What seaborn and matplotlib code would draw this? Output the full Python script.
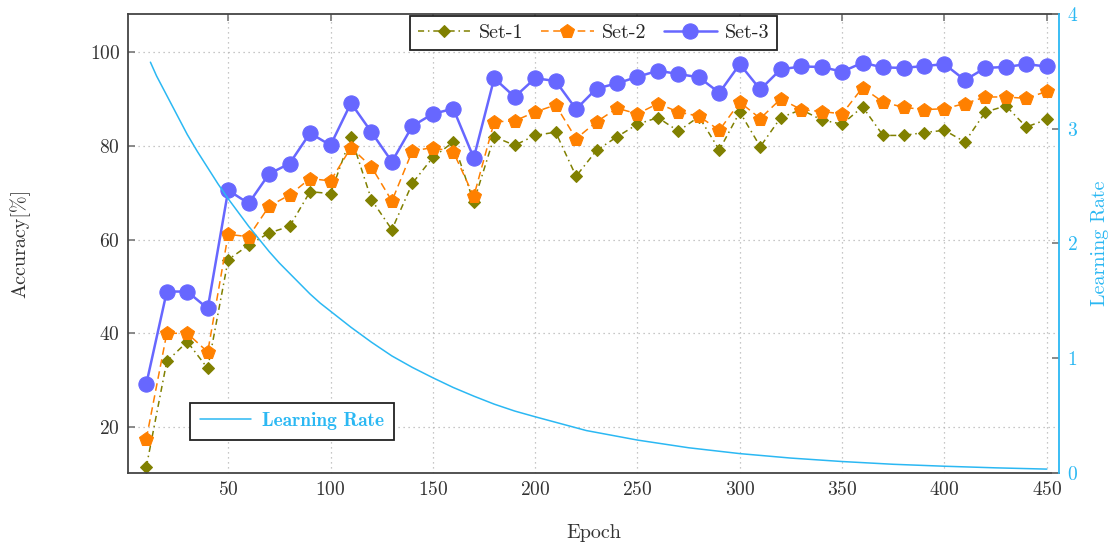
import matplotlib
matplotlib.use("Agg")
import matplotlib.pyplot as plt
import seaborn as sns

# accuracy per set, one value every 10 epochs
epochs = list(range(10, 460, 10))
set1 = [11.5, 34.0, 38.2, 32.5, 55.7, 58.8, 61.4, 62.8, 70.2, 69.8,
        81.9, 68.5, 62.1, 72.0, 77.5, 80.8, 68.0, 81.9, 80.1, 82.2,
        82.9, 73.5, 79.0, 81.9, 84.6, 86.0, 83.1, 86.2, 79.1, 87.2,
        79.8, 86.0, 87.7, 85.5, 84.6, 88.3, 82.2, 82.2, 82.8, 83.3,
        80.8, 87.2, 88.5, 84.0, 85.6]
set2 = [17.5, 40.0, 40.0, 36.0, 61.1, 60.6, 67.1, 69.5, 73.0, 72.5,
        79.6, 75.5, 68.2, 78.9, 79.6, 78.7, 69.2, 85.1, 85.3, 87.2,
        88.7, 81.5, 85.1, 88.0, 86.8, 89.0, 87.2, 86.3, 83.3, 89.3,
        85.8, 90.0, 87.7, 87.3, 86.8, 92.4, 89.3, 88.2, 87.7, 87.9,
        89.0, 90.4, 90.4, 90.1, 91.6]
set3 = [29.2, 48.9, 48.9, 45.3, 70.5, 67.7, 74.0, 76.2, 82.7, 80.1,
        89.1, 82.9, 76.6, 84.2, 86.8, 87.9, 77.4, 94.4, 90.4, 94.4,
        93.8, 87.8, 92.2, 93.3, 94.7, 96.0, 95.3, 94.6, 91.3, 97.4,
        92.0, 96.3, 96.9, 96.8, 95.8, 97.7, 96.7, 96.6, 97.0, 97.4,
        94.0, 96.6, 96.8, 97.4, 96.9]

# learning rate curve, sampled along the drawn line
lr_epochs = [12, 15, 20, 25, 30, 35, 40, 45, 50, 55, 60, 65, 70, 75, 80,
             85, 90, 95, 100, 110, 120, 130, 140, 150, 160, 170, 180, 190,
             200, 225, 250, 275, 300, 325, 350, 375, 400, 425, 450]
lr_values = [3.58, 3.46, 3.29, 3.12, 2.95, 2.80, 2.66, 2.52, 2.39, 2.27,
             2.15, 2.04, 1.93, 1.83, 1.74, 1.65, 1.56, 1.48, 1.41, 1.27,
             1.14, 1.02, 0.92, 0.83, 0.745, 0.67, 0.60, 0.54, 0.49, 0.37,
             0.287, 0.22, 0.169, 0.13, 0.10, 0.076, 0.059, 0.045, 0.034]

x_ticks = [50, 100, 150, 200, 250, 300, 350, 400, 450]
y_ticks = [20, 40, 60, 80, 100]
lr_ticks = [0, 1, 2, 3, 4]

sns.set_theme(style="white")
plt.rcParams["font.family"] = ["cmr10", "DejaVu Serif"]
plt.rcParams["axes.formatter.use_mathtext"] = True
plt.rcParams["mathtext.fontset"] = "cm"

olive = "#808000"
orange = "#ff8000"
blue = "#6767ff"
cyan = "#2bb8f3"
dark = "#333333"

fig = plt.figure(figsize=(11.1, 5.42), dpi=100)
ax = fig.add_axes([0.1156, 0.1273, 0.8385, 0.8469])

sns.lineplot(x=epochs, y=set1, ax=ax, color=olive, marker="D", markersize=6.5,
             markeredgecolor=olive, linestyle=(0, (4, 2.5, 1, 2.5)), linewidth=1.1,
             label="Set-1", errorbar=None, sort=False)
sns.lineplot(x=epochs, y=set2, ax=ax, color=orange, marker="p", markersize=10,
             markeredgecolor=orange, linestyle=(0, (5, 3)), linewidth=1.1,
             label="Set-2", errorbar=None, sort=False)
sns.lineplot(x=epochs, y=set3, ax=ax, color=blue, marker="o", markersize=11,
             markeredgecolor=blue, linestyle="-", linewidth=1.8,
             label="Set-3", errorbar=None, sort=False)

ax.set_xlim(1.2, 456)
ax.set_ylim(10.2, 108.1)
ax.set_xticks(x_ticks)
ax.set_yticks(y_ticks)
ax.grid(True, linestyle=(0, (1, 3)), color="#b5b5b5", linewidth=0.9)
ax.tick_params(direction="in", length=5, width=1.2, color="#777777", top=True,
               right=False, labelsize=14, labelcolor=dark, pad=6)
for side in ["left", "top", "bottom"]:
    ax.spines[side].set_color("#444444")
    ax.spines[side].set_linewidth(1.3)
ax.spines["right"].set_visible(False)

ax.set_xlabel("Epoch", fontsize=14.5, color=dark)
ax.xaxis.set_label_coords(0.5, -0.112)
ax.set_ylabel("Accuracy[%]", fontsize=14.5, color=dark)
ax.yaxis.set_label_coords(-0.1056, 0.5)

leg = ax.legend(loc="upper center", bbox_to_anchor=(0.5, 1.0), ncol=3,
                frameon=True, fancybox=False, edgecolor="#222222", framealpha=1,
                borderaxespad=0.1, fontsize=14.5, handlelength=2.6,
                columnspacing=0.9, handletextpad=0.4)
leg.get_frame().set_linewidth(1.3)

ax2 = ax.twinx()
sns.lineplot(x=lr_epochs, y=lr_values, ax=ax2, color=cyan, linewidth=1.1,
             label="Learning Rate", errorbar=None, sort=False)
ax2.set_ylim(0, 4)
ax2.set_yticks(lr_ticks)
ax2.grid(False)
ax2.tick_params(direction="in", length=5, width=1.2, color="#777777",
                labelcolor=cyan, labelsize=14, pad=6)
for side in ["left", "top", "bottom"]:
    ax2.spines[side].set_visible(False)
ax2.spines["right"].set_color(cyan)
ax2.spines["right"].set_linewidth(1.3)
ax2.set_ylabel("Learning Rate", fontsize=14.5, color=cyan)
ax2.yaxis.set_label_coords(1.034, 0.5)

leg2 = ax2.legend(loc="lower left", bbox_to_anchor=(0.0667, 0.0719),
                  borderaxespad=0, frameon=True, fancybox=False,
                  edgecolor="#222222", framealpha=1, handlelength=2.6,
                  borderpad=0.5, handletextpad=0.6,
                  prop={"family": "cmb10", "size": 14})
leg2.get_frame().set_linewidth(1.3)
for t in leg2.get_texts():
    t.set_color(cyan)

fig.savefig("out.png", dpi=100)
